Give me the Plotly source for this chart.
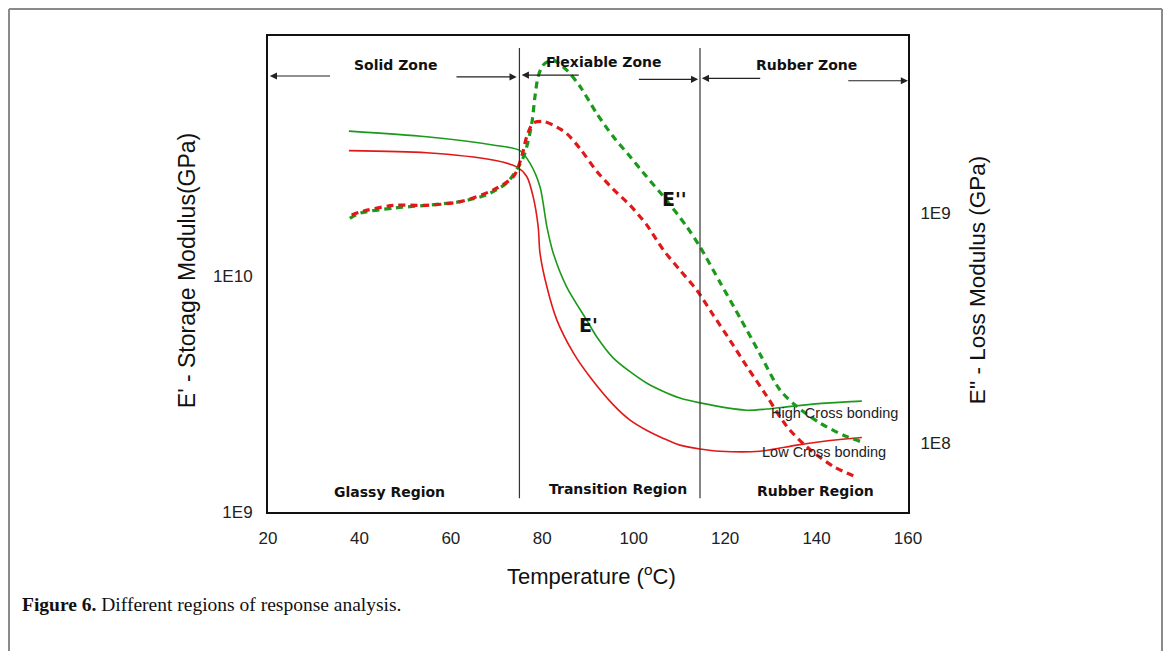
import plotly.graph_objects as go

# ---- data ----
T_e1_high = [37.7, 54.7, 69.2, 75.1, 77.3, 79.5, 81.0, 82.4, 85.3, 89.7, 91.9, 95.5, 99.2, 102.8, 106.5, 110.1, 114.5, 124.7, 129.1, 134.9, 142.9, 149.9]
E1_high = [4.11e10, 3.89e10, 3.59e10, 3.40e10, 3.01e10, 2.39e10, 1.62e10, 1.25e10, 9.02e9, 6.51e9, 5.53e9, 4.50e9, 3.93e9, 3.52e9, 3.24e9, 3.04e9, 2.90e9, 2.70e9, 2.73e9, 2.81e9, 2.90e9, 2.95e9]

T_e1_low = [37.7, 54.7, 69.2, 74.4, 76.6, 78.0, 79.1, 79.5, 81.0, 83.2, 86.8, 90.4, 95.5, 99.2, 102.8, 106.5, 110.1, 114.5, 118.9, 127.6, 135.7, 142.9, 149.9]
E1_low = [3.40e10, 3.33e10, 3.10e10, 2.90e10, 2.64e10, 2.17e10, 1.62e10, 1.25e10, 9.0e9, 6.5e9, 4.72e9, 3.74e9, 2.85e9, 2.45e9, 2.22e9, 2.05e9, 1.92e9, 1.85e9, 1.81e9, 1.81e9, 1.92e9, 2.01e9, 2.07e9]

T_e2_high = [37.9, 40.1, 47.4, 54.7, 62.0, 67.8, 72.2, 74.8, 76.2, 77.7, 78.4, 79.1, 80.2, 82.3, 85.3, 88.3, 91.9, 95.5, 99.2, 102.8, 106.5, 111.6, 114.5, 118.9, 123.3, 127.6, 132.0, 135.7, 140.8, 145.9, 149.9]
E2_high = [9.48e8, 9.98e8, 1.05e9, 1.08e9, 1.12e9, 1.20e9, 1.35e9, 1.59e9, 1.82e9, 2.45e9, 3.21e9, 3.92e9, 4.40e9, 4.62e9, 4.19e9, 3.54e9, 2.71e9, 2.15e9, 1.76e9, 1.44e9, 1.18e9, 8.72e8, 7.13e8, 4.99e8, 3.49e8, 2.44e8, 1.70e8, 1.44e8, 1.22e8, 1.08e8, 1.01e8]

T_e2_low = [38.3, 40.1, 47.4, 54.7, 62.0, 69.3, 73.7, 75.5, 76.6, 78.0, 80.2, 82.4, 85.3, 88.3, 91.9, 95.5, 99.2, 102.8, 106.5, 110.1, 113.8, 117.4, 121.1, 124.7, 129.1, 133.5, 137.9, 143.7, 148.8]
E2_low = [9.8e8, 1.01e9, 1.08e9, 1.08e9, 1.12e9, 1.26e9, 1.44e9, 1.76e9, 2.15e9, 2.46e9, 2.50e9, 2.41e9, 2.22e9, 1.90e9, 1.52e9, 1.27e9, 1.08e9, 8.9e8, 6.9e8, 5.65e8, 4.62e8, 3.60e8, 2.79e8, 2.16e8, 1.60e8, 1.18e8, 9.6e7, 7.9e7, 7.1e7]

x_ticks = [20, 40, 60, 80, 100, 120, 140, 160]
left_ticks = [1e9, 1e10]
left_tick_text = ["1E9", "1E10"]
right_ticks = [1e8, 1e9]
right_tick_text = ["1E8", "1E9"]

zone_bounds = [75, 114.5]
zone_labels = ["Solid Zone", "Flexiable Zone", "Rubber Zone"]
zone_label_x = [47.8, 93.5, 137.7]
region_labels = ["Glassy Region", "Transition Region", "Rubber Region"]
region_label_x = [46.5, 96.6, 139.7]

GREEN = "#1a9a1a"
RED = "#e01818"
FONT = "Liberation Sans, Arial, sans-serif"
BFONT = "DejaVu Sans, Verdana, sans-serif"

fig = go.Figure()
fig.add_trace(go.Scatter(x=T_e1_high, y=E1_high, mode="lines", line=dict(color=GREEN, width=1.6, shape="spline", smoothing=0.8), yaxis="y"))
fig.add_trace(go.Scatter(x=T_e1_low, y=E1_low, mode="lines", line=dict(color=RED, width=1.6, shape="spline", smoothing=0.8), yaxis="y"))
fig.add_trace(go.Scatter(x=T_e2_high, y=E2_high, mode="lines", line=dict(color=GREEN, width=3.2, dash="7px,5px", shape="spline", smoothing=0.8), yaxis="y2"))
fig.add_trace(go.Scatter(x=T_e2_low, y=E2_low, mode="lines", line=dict(color=RED, width=3.2, dash="7px,5px", shape="spline", smoothing=0.8), yaxis="y2"))

shapes = []
for b in zone_bounds:
    shapes.append(dict(type="line", xref="x", yref="paper", x0=b, x1=b, y0=0.029, y1=0.975, line=dict(color="#333333", width=1.2)))
# outer figure frame (left, top, right)
FL, FT, FR, FB = -0.4047, 1.0567, 1.3969, -0.35
for (x0, y0, x1, y1) in [(FL, FB, FL, FT), (FL, FT, FR, FT), (FR, FT, FR, FB)]:
    shapes.append(dict(type="line", xref="paper", yref="paper", x0=x0, y0=y0, x1=x1, y1=y1, line=dict(color="#8a8a8a", width=2)))

annotations = []
# zone arrows: (head, tail, y)
arrows = [(20.4, 33.9, 0.916), (74.4, 60.9, 0.914), (75.5, 88.3, 0.918), (114.1, 100.8, 0.909), (114.9, 128.0, 0.911), (160.0, 146.6, 0.906)]
for head, tail, yy in arrows:
    annotations.append(dict(x=head, y=yy, xref="x", yref="paper", ax=tail, ay=0, axref="x", ayref="pixel", text="", showarrow=True, arrowhead=2, arrowsize=1.2, arrowwidth=1.2, arrowcolor="#222222"))


def label(x, y, text, font, xref="x", **kw):
    d = dict(x=x, y=y, xref=xref, yref="paper", text=text, showarrow=False, font=font, xanchor="center", yanchor="middle")
    d.update(kw)
    return d


for lab, xx, yy in zip(zone_labels, zone_label_x, [0.939, 0.945, 0.939]):
    annotations.append(label(xx, yy, "<b>%s</b>" % lab, dict(family=BFONT, size=14, color="#111111")))
for lab, xx, yy in zip(region_labels, region_label_x, [0.042, 0.048, 0.044]):
    annotations.append(label(xx, yy, "<b>%s</b>" % lab, dict(family=BFONT, size=14, color="#111111")))
annotations += [
    label(109.0, 0.658, "<b>E''</b>", dict(family=BFONT, size=19, color="#111111")),
    label(90.2, 0.393, "<b>E'</b>", dict(family=BFONT, size=19, color="#111111")),
    label(144.0, 0.2086, "High Cross bonding", dict(family=FONT, size=14.5, color="#222222")),
    label(141.7, 0.1267, "Low Cross bonding", dict(family=FONT, size=14.5, color="#222222")),
    label(-0.1266, 0.508, "E' - Storage Modulus(GPa)", dict(family=FONT, size=23, color="#111111"), xref="paper", textangle=-90),
    label(1.108, 0.487, "E'' - Loss Modulus (GPa)", dict(family=FONT, size=22.5, color="#111111"), xref="paper", textangle=-90),
    label(0.506, -0.132, "Temperature (<sup>o</sup>C)", dict(family=FONT, size=22, color="#111111"), xref="paper"),
    label(-0.3875, -0.195, "<b>Figure 6.</b> Different regions of response analysis.", dict(family="Liberation Serif, Times New Roman, serif", size=19.5, color="#111111"), xref="paper", xanchor="left"),
]

fig.update_layout(
    width=1155, height=643,
    margin=dict(l=260, r=255, t=28, b=139),
    paper_bgcolor="white", plot_bgcolor="white",
    showlegend=False,
    shapes=shapes, annotations=annotations,
    xaxis=dict(range=[20, 160], tickvals=x_ticks, showgrid=False, zeroline=False,
               showline=True, linecolor="#111111", linewidth=2, mirror=True,
               ticks="outside", ticklen=10, tickcolor="rgba(0,0,0,0)",
               tickfont=dict(family=FONT, size=17, color="#222222")),
    yaxis=dict(type="log", range=[9, 11.017], tickvals=left_ticks, ticktext=left_tick_text, showgrid=False, zeroline=False,
               showline=True, linecolor="#111111", linewidth=2, mirror=True,
               ticks="outside", ticklen=10, tickcolor="rgba(0,0,0,0)",
               tickfont=dict(family=FONT, size=17, color="#222222")),
    yaxis2=dict(type="log", range=[7.7, 9.7696], overlaying="y", side="right", tickvals=right_ticks, ticktext=right_tick_text,
                showgrid=False, zeroline=False, showline=False,
                ticks="outside", ticklen=8, tickcolor="rgba(0,0,0,0)",
                tickfont=dict(family=FONT, size=17, color="#222222")),
)

fig.write_html("out.html")
